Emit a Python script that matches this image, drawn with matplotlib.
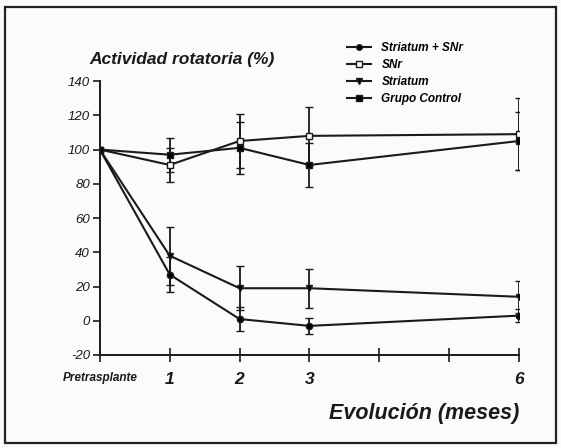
import matplotlib
matplotlib.use("Agg")
import matplotlib.pyplot as plt
from matplotlib.patches import Rectangle
from matplotlib.lines import Line2D

plt.rcParams['font.family'] = ['Liberation Sans', 'DejaVu Sans']
plt.rcParams['axes.unicode_minus'] = False

# months after transplant (0 = pretrasplante)
meses = [0, 1, 2, 3, 6]
tick_pos = [0, 1, 2, 3, 4, 5, 6]
tick_labels = ['Pretrasplante', '1', '2', '3', '', '', '6']

# activity (%) and error bars
striatum_snr = [100, 27, 1, -3, 3]
striatum_snr_err = [0, 10, 7, 4.5, 4]
snr = [100, 91, 105, 108, 109]
snr_err = [0, 10, 16, 17, 21]
striatum = [100, 38, 19, 19, 14]
striatum_err = [0, 17, 13, 11.5, 9.5]
control = [100, 97, 101, 91, 105]
control_err = [0, 10, 15, 13, 17]

series = [
    ('Striatum + SNr', striatum_snr, striatum_snr_err, 'o', 'k'),
    ('SNr', snr, snr_err, 's', 'white'),
    ('Striatum', striatum, striatum_err, 'v', 'k'),
    ('Grupo Control', control, control_err, 's', 'k'),
]
ink = '#1a1a1a'

fig = plt.figure(figsize=(5.61, 4.48), dpi=100)
fig.patch.set_facecolor('#fbfbf9')
fig.patches.append(Rectangle((0.009, 0.012), 0.982, 0.972, transform=fig.transFigure,
                             fill=False, edgecolor='#222222', linewidth=1.6))

ax = fig.add_axes([0.178, 0.2076, 0.747, 0.6114])
ax.set_facecolor('none')

handles = []
for name, vals, errs, mk, fc in series:
    ax.errorbar(meses, vals, yerr=errs, color=ink, linewidth=1.5,
                marker=mk, markersize=4.5, markerfacecolor=fc,
                markeredgecolor=ink, markeredgewidth=1.0,
                ecolor=ink, elinewidth=1.3, capsize=3, capthick=1.3)
    handles.append(Line2D([], [], color=ink, linewidth=1.5, marker=mk,
                          markersize=4, markerfacecolor=fc,
                          markeredgecolor=ink, label=name))

ax.set_xlim(0, 6)
ax.set_ylim(-20, 140)
ax.set_yticks(range(-20, 141, 20))
ax.set_xticks(tick_pos)
ax.set_xticklabels(tick_labels)
for sp in ['top', 'right']:
    ax.spines[sp].set_visible(False)
for sp in ['left', 'bottom']:
    ax.spines[sp].set_linewidth(1.4)
    ax.spines[sp].set_color(ink)

ax.tick_params(axis='y', direction='out', length=5, width=1.2, pad=2,
               labelsize=9.5, colors=ink)
ax.tick_params(axis='x', direction='inout', length=10, width=1.2, pad=7,
               labelsize=12.5, colors=ink)
for lbl in ax.get_yticklabels():
    lbl.set_fontstyle('italic')
for lbl in ax.get_xticklabels():
    lbl.set_fontstyle('italic')
    lbl.set_fontweight('bold')
xl = ax.get_xticklabels()
xl[0].set_fontsize(8.5)

fig.text(0.16, 0.858, 'Actividad rotatoria (%)', fontsize=12.5,
         fontweight='bold', fontstyle='italic', color=ink)
ax.set_xlabel('Evolución (meses)', fontsize=15.5, fontweight='bold',
              fontstyle='italic', color=ink, loc='right', labelpad=12)

fig.legend(handles=handles, loc='upper left',
           bbox_to_anchor=(0.6, 0.93), frameon=False,
           prop={'size': 8.5, 'weight': 'bold', 'style': 'italic'},
           handlelength=2.0, handletextpad=0.9, labelspacing=0.42)

fig.savefig('out.png', dpi=100, facecolor=fig.get_facecolor())
